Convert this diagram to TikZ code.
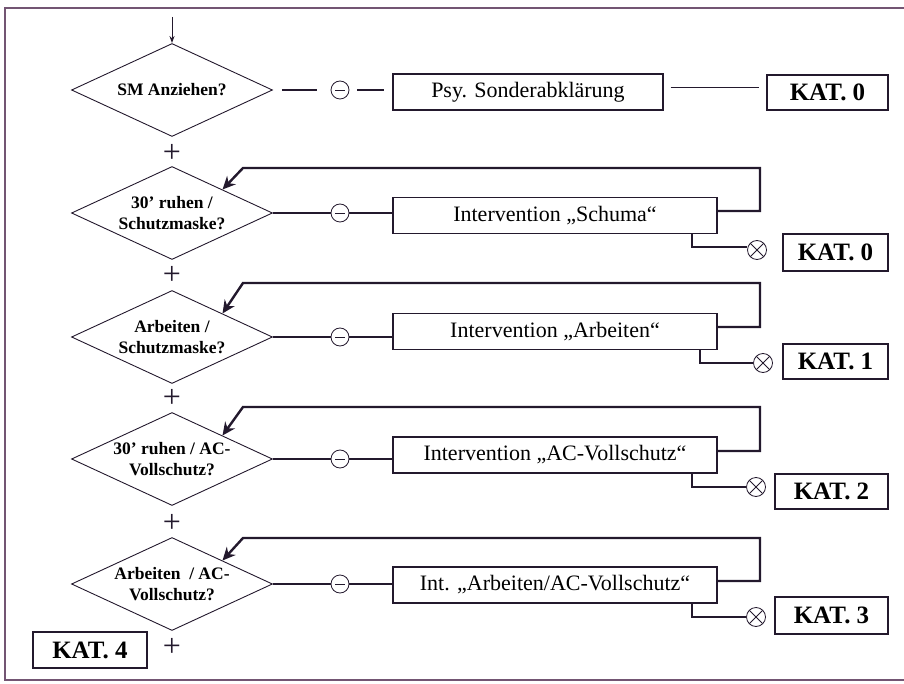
\documentclass[tikz,border=0pt]{standalone}
\usepackage{fontspec}
\setmainfont{Liberation Serif}
\usetikzlibrary{shapes.geometric,arrows.meta,calc}
\definecolor{ink}{RGB}{35,25,45}
\definecolor{framec}{RGB}{115,85,115}
\tikzset{
  dia/.style={shape=diamond,draw=ink,line width=0.9pt,minimum width=201pt,minimum height=93pt,inner sep=0pt},
  dtext/.style={font=\fontsize{17.5}{21}\selectfont\bfseries,align=center,text=black},
  ibox/.style={draw=ink,line width=1.1pt,minimum width=324pt,minimum height=36pt,inner sep=0pt,font=\fontsize{22}{24}\selectfont},
  kbox/.style={draw=ink,line width=1.2pt,inner sep=0pt,font=\fontsize{25}{26}\selectfont\bfseries},
  minus/.style={circle,draw=ink,line width=0.8pt,minimum size=18pt,inner sep=0pt,
    path picture={\draw[ink,line width=0.8pt] ([xshift=-5pt]path picture bounding box.center) -- ([xshift=5pt]path picture bounding box.center);}},
  times/.style={circle,draw=ink,line width=0.8pt,minimum size=19pt,inner sep=0pt,
    path picture={\draw[ink,line width=0.8pt] ([shift={(-6.7pt,-6.7pt)}]path picture bounding box.center) -- ([shift={(6.7pt,6.7pt)}]path picture bounding box.center)
      ([shift={(-6.7pt,6.7pt)}]path picture bounding box.center) -- ([shift={(6.7pt,-6.7pt)}]path picture bounding box.center);}},
  plus/.style={font=\fontsize{32}{32}\selectfont,inner sep=0pt,text=ink},
  conn/.style={draw=ink,line width=1.9pt},
  loop/.style={draw=ink,line width=2.4pt,-{Stealth[length=13pt,width=12pt]}},
  exitl/.style={draw=ink,line width=1.9pt}
}
\begin{document}
\begin{tikzpicture}[x=1pt,y=-1pt]
\useasboundingbox (0,0) rectangle (904,684);
% frame
\draw[framec,line width=1.3pt] (904,8) -- (5,8) -- (5,680) -- (904,680);

% diamonds
\node[dia] (d1) at (172,90) {};
\node[dtext] (t1) at (d1) {SM Anziehen?};
\node[dia] (d2) at (172,213) {};
\node[dtext] (t2) at (d2) {30’ ruhen /\\Schutzmaske?};
\node[dia] (d3) at (172,337) {};
\node[dtext] (t3) at (d3) {Arbeiten /\\Schutzmaske?};
\node[dia] (d4) at (172,459) {};
\node[dtext] (t4) at (d4) {30’ ruhen / AC-\\Vollschutz?};
\node[dia] (d5) at (172,584) {};
\node[dtext] (t5) at (d5) {Arbeiten \ / AC-\\Vollschutz?};

% plus signs
\node[plus] (p1) at (172,153) {+};
\node[plus] (p2) at (172,275) {+};
\node[plus] (p3) at (172,398) {+};
\node[plus] (p4) at (172,523) {+};
\node[plus] (p5) at (172,647) {+};

% entry arrow
\coordinate (start) at (172,17);
\draw[ink,line width=1pt,-{Stealth[length=7pt,width=5pt]}] (start) -- (d1.north);

% minus circles
\node[minus] (m1) at (340,90) {};
\node[minus] (m2) at (340,213) {};
\node[minus] (m3) at (340,337) {};
\node[minus] (m4) at (340,459) {};
\node[minus] (m5) at (340,584) {};

% boxes
\node[ibox,minimum width=270pt] (b1) at (528,92) {Psy. Sonderabklärung};
\node[ibox] (b2) at (555,215.5) {Intervention „Schuma“};
\node[ibox] (b3) at (555,331.5) {Intervention „Arbeiten“};
\node[ibox] (b4) at (555,455) {Intervention „AC-Vollschutz“};
\node[ibox] (b5) at (555,585) {Int. „Arbeiten/AC-Vollschutz“};

% KAT boxes
\node[kbox,minimum width=121pt,minimum height=35pt] (k0a) at (827.5,92.5) {KAT. 0};
\node[kbox,minimum width=105pt,minimum height=37pt] (k0b) at (835.5,252.5) {KAT. 0};
\node[kbox,minimum width=105pt,minimum height=35pt] (k1) at (835.5,361.5) {KAT. 1};
\node[kbox,minimum width=113pt,minimum height=35pt] (k2) at (831.5,491.5) {KAT. 2};
\node[kbox,minimum width=113pt,minimum height=37pt] (k3) at (831.5,615.5) {KAT. 3};
\node[kbox,minimum width=114pt,minimum height=36pt] (k4) at (90,650) {KAT. 4};

% times circles
\node[times] (x2) at (757,250) {};
\node[times] (x3) at (763,363) {};
\node[times] (x4) at (756,487) {};
\node[times] (x5) at (756,617) {};

% first row connectors
\draw[conn] ([xshift=9pt]d1.east) -- ([xshift=-14pt]m1.west);
\draw[conn] ([xshift=8pt]m1.east) -- ([xshift=-8pt]m1.east -| b1.west);
\draw[ink,line width=1pt] ([xshift=7pt]b1.east |- 0,88) -- ([xshift=-7pt]k0a.west |- 0,88);

% rows 2-5: diamond -> minus -> box
\foreach \i in {2,3,4,5}{
  \draw[conn] (d\i.east) -- (m\i.west);
  \draw[conn] (m\i.east) -- (m\i.east -| b\i.west);
}

% feedback loops
\draw[loop] (b2.east |- 0,211) -- (760,211) -- (760,168) -- (243,168) -- ($(d2.north)!0.5!(d2.east)$);
\draw[loop] (b3.east |- 0,327) -- (760,327) -- (760,283) -- (243,283) -- ($(d3.north)!0.5!(d3.east)$);
\draw[loop] (b4.east |- 0,451) -- (760,451) -- (760,407) -- (243,407) -- ($(d4.north)!0.5!(d4.east)$);
\draw[loop] (b5.east |- 0,581) -- (760,581) -- (760,538) -- (243,538) -- ($(d5.north)!0.5!(d5.east)$);

% exits
\draw[exitl] (b2.south -| 692,0) -- (692,247) -- (x2.west |- 0,247);
\draw[exitl] (b3.south -| 700,0) -- (700,363) -- (x3.west);
\draw[exitl] (b4.south -| 692,0) -- (692,487) -- (x4.west);
\draw[exitl] (b5.south -| 692,0) -- (692,617) -- (x5.west);
\end{tikzpicture}
\end{document}
